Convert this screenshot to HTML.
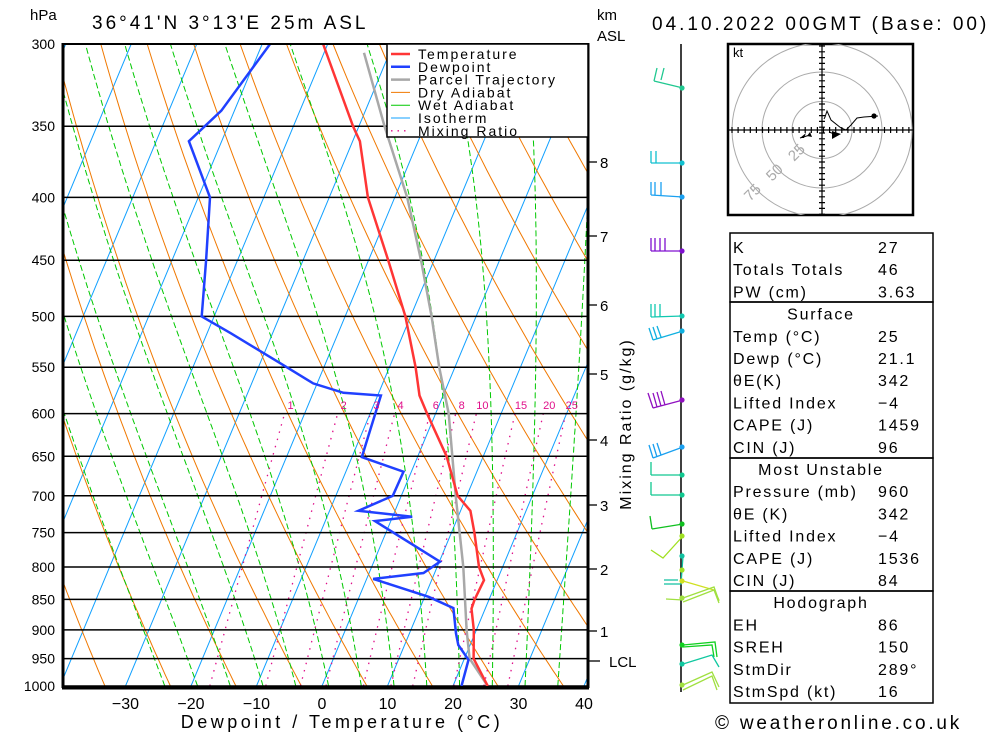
<!DOCTYPE html>
<html><head><meta charset="utf-8">
<style>
html,body{margin:0;padding:0;background:#fff;}
svg{display:block;font-family:"Liberation Sans",sans-serif;}
</style></head>
<body>
<svg id="chart" width="1000" height="733" viewBox="0 0 1000 733" xmlns="http://www.w3.org/2000/svg">
<defs><clipPath id="plotclip"><rect x="63" y="44" width="525" height="642"/></clipPath>
<clipPath id="hodoclip"><rect x="729" y="44" width="185" height="171"/></clipPath></defs>
<g id="bg" clip-path="url(#plotclip)"></g>
<g id="plines"></g>
<g id="series" clip-path="url(#plotclip)"></g>
<g id="frame">
<line x1="63" y1="43" x2="63" y2="688" stroke="#000" stroke-width="3"/>
<line x1="588" y1="43" x2="588" y2="688" stroke="#000" stroke-width="3"/>
<line x1="62" y1="688" x2="589" y2="688" stroke="#000" stroke-width="3"/>
<line x1="62" y1="44" x2="589" y2="44" stroke="#000" stroke-width="2"/>
</g>
<g id="labels" font-size="15" fill="#000"></g>
<text x="30" y="20" font-size="15">hPa</text>
<text x="92" y="29" font-size="19" letter-spacing="3">36°41'N  3°13'E  25m  ASL</text>
<text x="597" y="20" font-size="15">km</text>
<text x="597" y="41" font-size="15">ASL</text>
<text x="652" y="30" font-size="19" letter-spacing="3">04.10.2022  00GMT  (Base:  00)</text>
<text x="342" y="728" font-size="18" text-anchor="middle" letter-spacing="3.5">Dewpoint / Temperature (°C)</text>
<text transform="translate(631,424) rotate(-90)" font-size="16" text-anchor="middle" letter-spacing="2">Mixing Ratio (g/kg)</text>
<text x="715" y="729" font-size="19" letter-spacing="2.8">© weatheronline.co.uk</text>
<g id="legend">
<rect x="387" y="44" width="201" height="93" fill="#fff" stroke="#000" stroke-width="1.5"/>
</g>
<g id="winds">
<line x1="681" y1="44" x2="681" y2="692" stroke="#000" stroke-width="1.5"/>
</g>
<g id="hodo"></g>
<g id="table"></g>
</svg>
<script>
// ---- data ----
const tempP = [300,350,360,400,450,500,550,580,600,650,700,720,750,800,820,850,865,900,950,960,1000];
const tempT = [-40.7,-30.9,-28.9,-24.1,-17.0,-10.8,-6.0,-3.6,-1.3,4.4,8.6,11.5,13.5,16.4,18.0,17.8,17.9,19.6,21.4,22.2,25.3];
const dewP = [300,340,360,400,450,500,516,546,567,577,580,651,669,700,720,728,734,792,809,818,846,864,906,926,952,1000];
const dewT = [-48.8,-52,-55,-48.2,-44.8,-41.9,-36.4,-26.9,-20.6,-15.4,-9.5,-8.5,-1.2,-1.3,-5.6,3.0,-2.4,10.1,8.3,1.0,10.6,15.1,17.1,18.2,20.7,21.3];
const parcelP = [305,350,400,450,500,550,600,700,800,900,950,1000];
const parcelT = [-33.9,-26.1,-18.1,-12.0,-6.8,-2.4,2.0,8.3,14.0,18.5,20.8,25.3];
const pressureLevels = [300,350,400,450,500,550,600,650,700,750,800,850,900,950,1000];
const xTicks = [-30,-20,-10,0,10,20,30,40];
const mixRatios = [1,2,3,4,6,8,10,15,20,25];
const isotherms = [-110,-100,-90,-80,-70,-60,-50,-40,-30,-20,-10,0,10,20,30,40];
const dryThetas = [240,250,260,270,280,290,300,310,320,330,340,350,360,370,380,390,400,410,420,430,440,450,460,470];
const wetStarts = [-24,-19,-14,-9,-4,1,6,11,16,21,26,31,36];
const kmLabels = ["1","2","3","4","5","6","7","8","LCL"];
const kmY = [631,569,505,440,374,305,236,162,661];
const tableRows = [["K","27"],["Totals Totals","46"],["PW (cm)","3.63"],["*Surface",""],["Temp (°C)","25"],["Dewp (°C)","21.1"],["θE(K)","342"],["Lifted Index","−4"],["CAPE (J)","1459"],["CIN (J)","96"],["*Most Unstable",""],["Pressure (mb)","960"],["θE (K)","342"],["Lifted Index","−4"],["CAPE (J)","1536"],["CIN (J)","84"],["*Hodograph",""],["EH","86"],["SREH","150"],["StmDir","289°"],["StmSpd (kt)","16"]];

// ---- axes ----
const NS="http://www.w3.org/2000/svg";
const LN=Math.log(1000/300);
function yP(p){return 44+Math.log(p/300)/LN*642;}
function xT(T,p){return 322+6.55*T+0.417*(686-yP(p));}
function el(tag,attrs,parent){const e=document.createElementNS(NS,tag);for(const k in attrs)e.setAttribute(k,attrs[k]);parent.appendChild(e);return e;}
function pathFrom(ps,ts){let d="";for(let i=0;i<ps.length;i++){d+=(i?"L":"M")+xT(ts[i],ps[i]).toFixed(1)+","+yP(ps[i]).toFixed(1);}return d;}
const bg=document.getElementById('bg');
const series=document.getElementById('series');
const labels=document.getElementById('labels');

isotherms.forEach(T=>{const e=el('line',{x1:xT(T,1000),y1:yP(1000),x2:xT(T,300),y2:yP(300),stroke:'#10a0ff','stroke-width':1},bg);

});
dryThetas.forEach(th=>{const ps=[],ts=[];for(let p=1000;p>=300;p-=10){ps.push(p);ts.push(th*Math.pow(p/1000,0.2857)-273.15);}
const e=el('path',{d:pathFrom(ps,ts),fill:'none',stroke:'#f07800','stroke-width':1},bg);

});
function es(T){return 6.112*Math.exp(17.67*T/(T+243.5));}
wetStarts.forEach(t0=>{let T=t0+273.15;const ps=[1000],ts=[t0];for(let p=1000;p>300;p-=2){const Tc=T-273.15;const e=es(Tc);const rs=0.622*e/(p-e);
const dTdp=(287*T+2.5e6*rs)/(p*(1004+2.5e6*2.5e6*rs*0.622/(287*T*T)));T-=dTdp*2;ps.push(p-2);ts.push(T-273.15);}
const e=el('path',{d:pathFrom(ps,ts),fill:'none',stroke:'#00c800','stroke-width':1,'stroke-dasharray':'6,3'},bg);

});
mixRatios.forEach(w=>{const ps=[],ts=[];for(let p=1000;p>=600;p-=10){const e=(w/1000)*p/(0.622+w/1000);const l=Math.log(e/6.112);ps.push(p);ts.push(243.5*l/(17.67-l));}
const e=el('path',{d:pathFrom(ps,ts),fill:'none',stroke:'#e0108a','stroke-width':1.3,'stroke-dasharray':'1.5,6'},bg);


const t=el('text',{x:xT(ts[ts.length-1],600)+6,y:409,'font-size':11,fill:'#e0108a','text-anchor':'middle'},labels);t.textContent=w;

});

const pl=document.getElementById('plines');
pressureLevels.forEach(p=>{const e=el('line',{x1:63,y1:yP(p),x2:588,y2:yP(p),stroke:'#000','stroke-width':1.5},pl);


const t=el('text',{x:55,y:yP(p)+5,'text-anchor':'end','font-size':14},labels);t.textContent=p;

});
xTicks.forEach(T=>{const t=el('text',{x:xT(T,1000),y:709,'text-anchor':'middle','font-size':16},labels);t.textContent=(T<0?'−':'')+Math.abs(T);

});
kmLabels.forEach((k,i)=>{const l=el('line',{x1:588,y1:kmY[i],x2:(k==='LCL'?600:597),y2:kmY[i],stroke:'#000','stroke-width':1.3},labels);


const t=el('text',{x:(k==='LCL'?609:600),y:kmY[i]+6,'font-size':15},labels);t.textContent=k;

});

const sp=el('path',{d:pathFrom(parcelP,parcelT),fill:'none',stroke:'#a8a8a8','stroke-width':2.5},series);


const st=el('path',{d:pathFrom(tempP,tempT),fill:'none',stroke:'#ff3535','stroke-width':2.5},series);


const sd=el('path',{d:pathFrom(dewP,dewT),fill:'none',stroke:'#2040ff','stroke-width':2.5},series);



const leg=document.getElementById('legend');
[["Temperature","#ff3535",2.5,null],["Dewpoint","#2040ff",2.5,null],["Parcel Trajectory","#a8a8a8",2.5,null],["Dry Adiabat","#f07800",1,null],["Wet Adiabat","#00c800",1,null],["Isotherm","#10a0ff",1,null],["Mixing Ratio","#e0108a",1.3,"1.5,5"]].forEach((r,i)=>{const y=54+i*12.8;
const l=el('line',{x1:391,y1:y,x2:410,y2:y,stroke:r[1],'stroke-width':r[2]},leg);if(r[3])l.setAttribute('stroke-dasharray',r[3]);


const t=el('text',{x:418,y:y+5,'font-size':14,'letter-spacing':2},leg);t.textContent=r[0];

});

const winds=document.getElementById('winds');
const barbs=[
["#20c890",88,"683,88 654,81 M654,81 657,68 M661,80 664,68"],
["#10c0d0",163,"683,163 651,163 M651,163 651,151 M656,163 656,151"],
["#1aa0f0",197,"683,197 651,195 M651,195 651,182 M655,195 655,182 M661,196 661,182"],
["#8010d0",251,"683,251 651,251 M651,251 651,238 M655,251 655,238 M660,251 660,238 M665,251 665,238"],
["#10c8b0",316,"683,316 651,317 M651,317 651,304 M655,317 655,304 M660,317 660,304"],
["#10b0e0",331,"683,331 653,340 M653,340 649,328 M657,339 653,327 M661,337 657,326"],
["#9010c0",400,"683,400 653,408 M653,408 648,393 M657,407 653,393 M661,406 657,392 M665,405 661,391"],
["#1aa0f0",447,"683,447 653,458 M653,458 649,445 M657,457 653,444 M661,455 657,443"],
["#10c890",475,"683,475 651,475 M651,475 651,462"],
["#10c890",495,"683,495 651,495 M651,495 651,482"],
["#10c020",524,"683,524 652,529 M652,529 650,516"],
["#a0e020",536,"683,536 663,558 651,550"],
["#10c0a0",556,"683,556 681,584 664,584 M664,580 678,580"],
["#a0e020",570,"683,570 681,572"],
["#d0e020",581,"683,581 714,590 719,600"],
["#a0e040",598,"683,598 714,587 719,601 M666,599 683,600 M683,602 714,590 719,603"],
["#10d020",645,"683,645 715,642 717,657 M683,647 712,645 714,657"],
["#10c8a0",664,"683,664 712,655 719,667"],
["#a0e040",685,"683,685 712,672 719,687 M683,690 712,676 717,690"]
];
barbs.forEach(b=>{const pts=b[2].split(" M");let d="";pts.forEach(s=>{const q=s.trim().split(" ");d+="M"+q.join(" L");});
const p=el('path',{d:d,fill:'none',stroke:b[0],'stroke-width':1.3},winds);


const c=el('circle',{cx:682,cy:b[1],r:2.6,fill:b[0]},winds);

});

const hodo=document.getElementById('hodo');
const hb=el('rect',{x:728,y:44,width:185,height:171,fill:'#fff',stroke:'#000','stroke-width':2.5},hodo);


const hg=el('g',{'clip-path':'url(#hodoclip)'},hodo);
[[30,28.5],[60,58],[90,87]].forEach(r=>{const e=el('ellipse',{cx:822,cy:130,rx:r[0],ry:r[1],fill:'none',stroke:'#aaa','stroke-width':1},hg);

});
let hd="M729,130 L913,130 M822,44 L822,215";
for(let x=822-90;x<=913;x+=6.1){hd+="M"+x.toFixed(1)+",127 L"+x.toFixed(1)+",133 ";}
for(let y=130-84;y<=215;y+=5.8){hd+="M819,"+y.toFixed(1)+" L825,"+y.toFixed(1)+" ";}
const ha=el('path',{d:hd,stroke:'#000','stroke-width':1.2,fill:'none'},hodo);


[["25",800,156],["50",778,176],["75",756,196]].forEach(l=>{const t=el('text',{x:l[1],y:l[2],'font-size':15,fill:'#aaa','text-anchor':'middle',transform:'rotate(-45 '+l[1]+' '+l[2]+')'},hodo);t.textContent=l[0];

});
const ht=el('path',{d:"M878,116 L864,117 L857,118 L851,125 L846,130 L841,128 L831,120 L827,111 L825,117 L824,119 M829,132 L837,135 M810,135 L800,138",fill:'none',stroke:'#000','stroke-width':1},hodo);


const h1=el('circle',{cx:874,cy:116,r:2.6,fill:'#000'},hodo);


const h2=el('path',{d:"M832,131 L841,134 L832,139 Z M810,132 L812,137 L807,136 Z M800,138 L806,133 L804,138 Z",fill:'#000'},hodo);


const hk=el('text',{x:733,y:57,'font-size':13},hodo);hk.textContent='kt';



const table=document.getElementById('table');
[[233,302],[302,458],[458,591],[591,703]].forEach(b=>{const r=el('rect',{x:730,y:b[0],width:203,height:b[1]-b[0],fill:'none',stroke:'#000','stroke-width':1.5},table);

});
tableRows.forEach((r,i)=>{const y=253+i*22.2;
if(r[0][0]==='*'){const t=el('text',{x:821,y:y,'font-size':16,'text-anchor':'middle','letter-spacing':1.8},table);t.textContent=r[0].slice(1);

return;}
const t=el('text',{x:733,y:y,'font-size':16,'letter-spacing':1.8},table);t.textContent=r[0];


const v=el('text',{x:878,y:y,'font-size':16,'letter-spacing':1.8},table);v.textContent=r[1];

});
</script>
</body></html>
